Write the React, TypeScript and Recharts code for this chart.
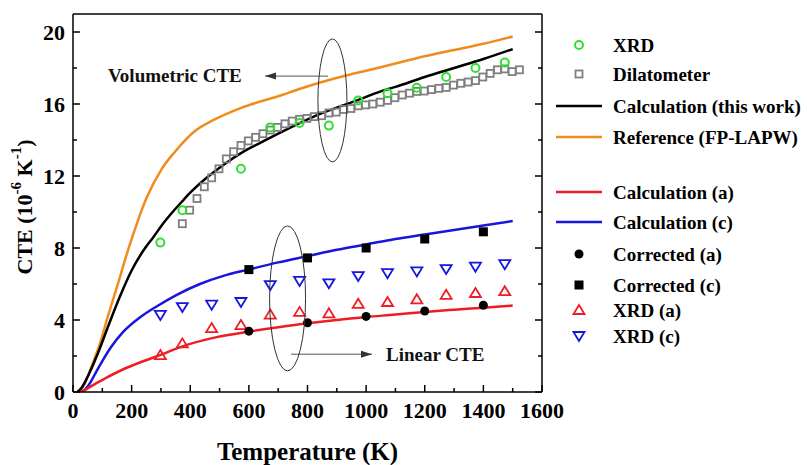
import {
  ComposedChart,
  Line,
  ReferenceDot,
  ReferenceLine,
  Scatter,
  XAxis,
  YAxis,
} from "recharts";

const FONT = '"Liberation Serif", "Times New Roman", serif';

// axis ticks (every 100 K / every 2 units, labels on the even ones)
const xTicks = [0, 100, 200, 300, 400, 500, 600, 700, 800, 900, 1000, 1100, 1200, 1300, 1400, 1500, 1600];
const yTicks = [0, 2, 4, 6, 8, 10, 12, 14, 16, 18, 20];

// volumetric CTE
const calcVol = [
  [15, 0], [30, 0.25], [50, 0.85], [85, 2.15], [120, 3.65], [160, 5.3], [200, 6.75], [246, 8.0],
  [274, 8.6], [300, 9.2], [348, 10.15], [373, 10.6], [400, 11.07], [461, 11.97], [520, 12.7],
  [576, 13.3], [640, 13.85], [700, 14.35], [775, 14.95], [843, 15.45], [900, 15.8], [969, 16.2],
  [1050, 16.7], [1100, 16.95], [1200, 17.5], [1300, 18.0], [1400, 18.5], [1500, 19.05],
];
const refVol = [
  [20, 0], [40, 0.45], [58, 1.2], [92, 2.7], [119, 4.2], [154, 6.05], [188, 7.9], [222, 9.55],
  [250, 10.75], [303, 12.4], [348, 13.35], [416, 14.5], [478, 15.1], [576, 15.8], [713, 16.5],
  [775, 16.85], [935, 17.6], [1000, 17.85], [1100, 18.25], [1200, 18.65], [1300, 19.0],
  [1400, 19.35], [1500, 19.75],
];
const xrdVol = [
  [298, 8.3], [373, 10.1], [573, 12.4], [673, 14.7], [773, 14.95], [873, 14.8], [973, 16.2],
  [1073, 16.6], [1173, 16.9], [1273, 17.5], [1373, 18.0], [1473, 18.3],
];
const dilatometer = [
  [373, 9.35], [398, 10.1], [423, 10.75], [448, 11.4], [473, 11.9], [498, 12.4], [523, 12.95],
  [548, 13.35], [573, 13.7], [598, 13.95], [623, 14.15], [648, 14.35], [673, 14.55], [698, 14.7],
  [723, 14.9], [748, 15.05], [773, 15.15], [798, 15.2], [823, 15.3], [848, 15.35], [873, 15.5],
  [898, 15.55], [923, 15.7], [948, 15.75], [973, 15.9], [998, 15.95], [1023, 16.0], [1048, 16.1],
  [1073, 16.2], [1098, 16.35], [1123, 16.5], [1148, 16.6], [1173, 16.7], [1198, 16.72],
  [1223, 16.8], [1248, 16.87], [1273, 16.92], [1298, 17.05], [1323, 17.15], [1348, 17.22],
  [1373, 17.3], [1398, 17.5], [1423, 17.7], [1448, 17.9], [1473, 17.95], [1498, 17.8], [1523, 17.9],
];

// linear CTE
const calcA = [
  [25, 0], [45, 0.15], [70, 0.4], [109, 0.75], [170, 1.25], [235, 1.68], [297, 2.05], [376, 2.55],
  [490, 3.05], [598, 3.35], [700, 3.6], [800, 3.82], [900, 4.0], [1000, 4.17], [1100, 4.3],
  [1200, 4.45], [1300, 4.57], [1400, 4.68], [1500, 4.8],
];
const calcC = [
  [25, 0], [40, 0.12], [60, 0.55], [80, 1.15], [100, 1.72], [130, 2.5], [172, 3.35], [229, 4.15],
  [285, 4.75], [354, 5.4], [433, 6.0], [513, 6.45], [598, 6.8], [700, 7.2], [800, 7.55],
  [900, 7.9], [1000, 8.2], [1100, 8.5], [1200, 8.75], [1300, 9.0], [1400, 9.25], [1500, 9.5],
];
const correctedA = [[600, 3.38], [800, 3.85], [1000, 4.2], [1200, 4.5], [1400, 4.82]];
const correctedC = [[600, 6.8], [800, 7.45], [1000, 8.0], [1200, 8.5], [1400, 8.9]];
const xrdA = [
  [298, 2.05], [373, 2.7], [473, 3.55], [573, 3.72], [673, 4.3], [773, 4.45], [873, 4.37],
  [973, 4.9], [1073, 5.0], [1173, 5.15], [1273, 5.4], [1373, 5.5], [1473, 5.6],
];
const xrdC = [
  [298, 4.28], [373, 4.72], [473, 4.85], [573, 5.0], [673, 5.94], [773, 6.17], [873, 6.04],
  [973, 6.44], [1073, 6.6], [1173, 6.7], [1273, 6.83], [1373, 6.96], [1473, 7.1],
];

const COLORS = {
  green: "#2fe02f",
  gray: "#7f7f7f",
  black: "#000000",
  orange: "#f08c1e",
  red: "#ee1c24",
  blue: "#1616dc",
};

type Kind = "circle" | "square" | "line" | "dot" | "block" | "up" | "down";
const legendItems: { label: string; kind: Kind; color: string }[] = [
  { label: "XRD", kind: "circle", color: COLORS.green },
  { label: "Dilatometer", kind: "square", color: COLORS.gray },
  { label: "Calculation (this work)", kind: "line", color: COLORS.black },
  { label: "Reference (FP-LAPW)", kind: "line", color: COLORS.orange },
  { label: "Calculation (a)", kind: "line", color: COLORS.red },
  { label: "Calculation (c)", kind: "line", color: COLORS.blue },
  { label: "Corrected (a)", kind: "dot", color: COLORS.black },
  { label: "Corrected (c)", kind: "block", color: COLORS.black },
  { label: "XRD (a)", kind: "up", color: COLORS.red },
  { label: "XRD (c)", kind: "down", color: COLORS.blue },
];
const legendRowY = [45, 74, 106, 137, 192, 222, 254, 285, 310, 336];

const pts = (rows: number[][]) => rows.map(([t, v]) => ({ t, v }));

function marker(kind: Kind, cx: number, cy: number, color: string) {
  switch (kind) {
    case "circle":
      return <circle cx={cx} cy={cy} r={4} fill="none" stroke={color} strokeWidth={2} />;
    case "square":
      return <rect x={cx - 3.5} y={cy - 3.5} width={7} height={7} fill="none" stroke={color} strokeWidth={1.8} />;
    case "dot":
      return <circle cx={cx} cy={cy} r={4.5} fill={color} />;
    case "block":
      return <rect x={cx - 4.5} y={cy - 4.5} width={9} height={9} fill={color} />;
    case "up":
      return (
        <polygon points={`${cx},${cy - 5} ${cx - 5.5},${cy + 4} ${cx + 5.5},${cy + 4}`}
          fill="none" stroke={color} strokeWidth={1.8} />
      );
    case "down":
      return (
        <polygon points={`${cx},${cy + 5} ${cx - 5.5},${cy - 4} ${cx + 5.5},${cy - 4}`}
          fill="none" stroke={color} strokeWidth={1.8} />
      );
    default:
      return <line x1={cx - 23} x2={cx + 23} y1={cy} y2={cy} stroke={color} strokeWidth={2.5} />;
  }
}

const tickText = { fontSize: 22, fontWeight: "bold" as const, fontFamily: FONT, fill: "#000" };

function BottomTick(p: any) {
  const major = p.payload.value % 200 === 0;
  return (
    <g>
      <line x1={p.x} x2={p.x} y1={p.y} y2={p.y - (major ? 7 : 4)} stroke="#000" strokeWidth={1.5} />
      {major && (
        <text x={p.x} y={p.y + 18} textAnchor="middle" dominantBaseline="central" {...tickText}>
          {p.payload.value}
        </text>
      )}
    </g>
  );
}
function TopTick(p: any) {
  const major = p.payload.value % 200 === 0;
  return <line x1={p.x} x2={p.x} y1={p.y} y2={p.y + (major ? 7 : 4)} stroke="#000" strokeWidth={1.5} />;
}
function LeftTick(p: any) {
  const major = p.payload.value % 4 === 0;
  return (
    <g>
      <line x1={p.x} x2={p.x + (major ? 7 : 4)} y1={p.y} y2={p.y} stroke="#000" strokeWidth={1.5} />
      {major && (
        <text x={p.x - 8} y={p.y} textAnchor="end" dominantBaseline="central" {...tickText}>
          {p.payload.value}
        </text>
      )}
    </g>
  );
}
function RightTick(p: any) {
  const major = p.payload.value % 4 === 0;
  return <line x1={p.x} x2={p.x - (major ? 7 : 4)} y1={p.y} y2={p.y} stroke="#000" strokeWidth={1.5} />;
}

function arrowShape(p: any) {
  const { x1, y1, x2, y2 } = p;
  const dir = x2 > x1 ? -1 : 1;
  return (
    <g>
      <line x1={x1} y1={y1} x2={x2} y2={y2} stroke="#555" strokeWidth={1} />
      <polygon points={`${x2},${y2} ${x2 + dir * 11},${y2 - 3.5} ${x2 + dir * 11},${y2 + 3.5}`} fill="#333" />
    </g>
  );
}

const ellipseShape = (rx: number, ry: number) => (p: any) =>
  <ellipse cx={p.cx} cy={p.cy} rx={rx} ry={ry} fill="none" stroke="#333" strokeWidth={1} />;

const labelShape = (text: string) => (p: any) => (
  <text x={p.cx} y={p.cy} dominantBaseline="central" fontSize={19} fontWeight="bold" fontFamily={FONT} fill="#111">
    {text}
  </text>
);

const axisLine = { stroke: "#000", strokeWidth: 1.5 };

export default function App() {
  return (
    <div style={{ position: "absolute", left: 0, top: 0, width: 807, height: 465, background: "#fff" }}>
      <ComposedChart width={807} height={465} margin={{ top: 13, right: 264, bottom: 72, left: 72 }}>
        <XAxis
          xAxisId={0}
          dataKey="t"
          type="number"
          domain={[0, 1600]}
          ticks={xTicks}
          interval={0}
          height={1}
          tickSize={0}
          tickMargin={0}
          tick={BottomTick}
          axisLine={axisLine}
          allowDataOverflow
          label={(p: any) => {
            const vb = p.viewBox;
            return (
              <text x={vb.x + vb.width / 2} y={vb.y + 59} textAnchor="middle" dominantBaseline="central"
                fontSize={25} fontWeight="bold" fontFamily={FONT} fill="#000">
                Temperature (K)
              </text>
            );
          }}
        />
        <XAxis
          xAxisId="top"
          orientation="top"
          type="number"
          domain={[0, 1600]}
          ticks={xTicks}
          interval={0}
          height={1}
          tickSize={0}
          tickMargin={0}
          tick={TopTick}
          axisLine={axisLine}
          allowDataOverflow
        />
        <YAxis
          yAxisId={0}
          dataKey="v"
          type="number"
          domain={[0, 21]}
          ticks={yTicks}
          interval={0}
          width={1}
          tickSize={0}
          tickMargin={0}
          tick={LeftTick}
          axisLine={axisLine}
          allowDataOverflow
          label={(p: any) => {
            const vb = p.viewBox;
            const cx = vb.x - 48;
            const cy = vb.y + vb.height / 2 + 4;
            return (
              <text x={cx} y={cy} transform={`rotate(-90, ${cx}, ${cy})`} textAnchor="middle"
                dominantBaseline="central" fontSize={22} fontWeight="bold" fontFamily={FONT} fill="#000">
                CTE (10<tspan dy={-8} fontSize={15}>-6</tspan>
                <tspan dy={8}> K</tspan>
                <tspan dy={-8} fontSize={15}>-1</tspan>
                <tspan dy={8}>)</tspan>
              </text>
            );
          }}
        />
        <YAxis
          yAxisId="right"
          orientation="right"
          type="number"
          domain={[0, 21]}
          ticks={yTicks}
          interval={0}
          width={1}
          tickSize={0}
          tickMargin={0}
          tick={RightTick}
          axisLine={axisLine}
          allowDataOverflow
        />

        <Line data={pts(refVol)} dataKey="v" type="monotone" stroke={COLORS.orange} strokeWidth={2.5} dot={false} isAnimationActive={false} />
        <Line data={pts(calcVol)} dataKey="v" type="monotone" stroke={COLORS.black} strokeWidth={2.5} dot={false} isAnimationActive={false} />
        <Line data={pts(calcC)} dataKey="v" type="monotone" stroke={COLORS.blue} strokeWidth={2.5} dot={false} isAnimationActive={false} />
        <Line data={pts(calcA)} dataKey="v" type="monotone" stroke={COLORS.red} strokeWidth={2.5} dot={false} isAnimationActive={false} />

        <Scatter data={pts(dilatometer)} isAnimationActive={false} shape={(p: any) => marker("square", p.cx, p.cy, COLORS.gray)} />
        <Scatter data={pts(xrdVol)} isAnimationActive={false} shape={(p: any) => marker("circle", p.cx, p.cy, COLORS.green)} />
        <Scatter data={pts(xrdA)} isAnimationActive={false} shape={(p: any) => marker("up", p.cx, p.cy, COLORS.red)} />
        <Scatter data={pts(xrdC)} isAnimationActive={false} shape={(p: any) => marker("down", p.cx, p.cy, COLORS.blue)} />
        <Scatter data={pts(correctedA)} isAnimationActive={false} shape={(p: any) => marker("dot", p.cx, p.cy, COLORS.black)} />
        <Scatter data={pts(correctedC)} isAnimationActive={false} shape={(p: any) => marker("block", p.cx, p.cy, COLORS.black)} />

        <ReferenceDot x={885} y={16.2} r={1} shape={ellipseShape(14.5, 61.5)} />
        <ReferenceDot x={732} y={5.2} r={1} shape={ellipseShape(18, 72.5)} />
        <ReferenceLine segment={[{ x: 870, y: 17.55 }, { x: 655, y: 17.55 }]} shape={arrowShape} />
        <ReferenceLine segment={[{ x: 744, y: 2.1 }, { x: 1020, y: 2.1 }]} shape={arrowShape} />
        <ReferenceDot x={119} y={17.6} r={1} shape={labelShape("Volumetric CTE")} />
        <ReferenceDot x={1068} y={2.1} r={1} shape={labelShape("Linear CTE")} />
      </ComposedChart>

      <svg width={260} height={360} style={{ position: "absolute", left: 547, top: 0 }}>
        {legendItems.map((item, i) => (
          <g key={item.label}>
            {marker(item.kind, 32, legendRowY[i], item.color)}
            <text x={66} y={legendRowY[i]} dominantBaseline="central" fontSize={19} fontWeight="bold"
              fontFamily={FONT} fill="#000">
              {item.label}
            </text>
          </g>
        ))}
      </svg>
    </div>
  );
}
